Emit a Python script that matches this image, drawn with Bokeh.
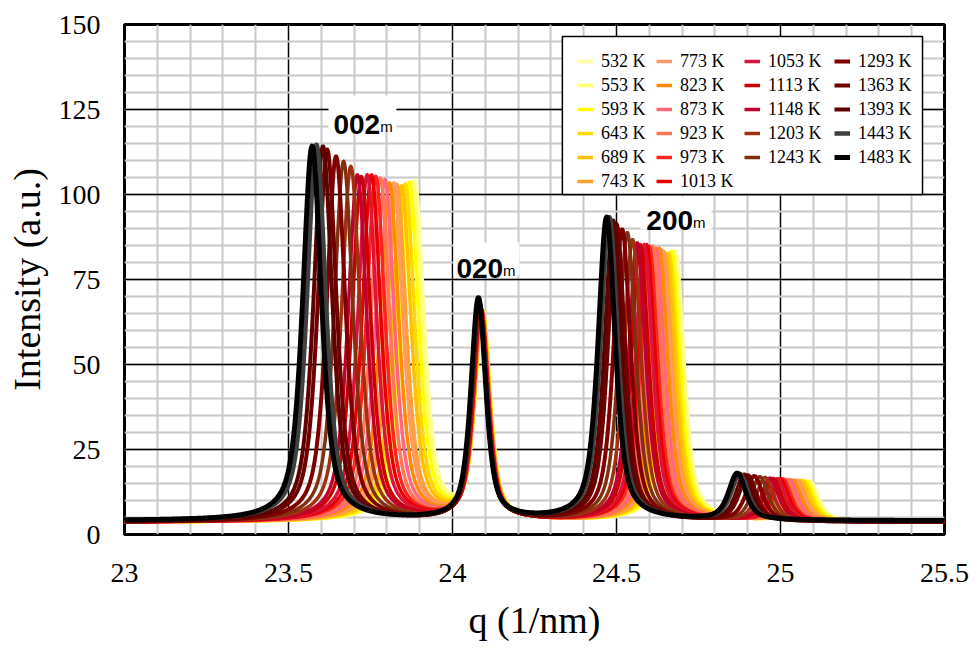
import numpy as np
from bokeh.plotting import figure
from bokeh.models import (Range1d, FixedTicker, NumeralTickFormatter, Legend,
                          LegendItem, BoxAnnotation, Label)
from bokeh.embed import file_html
from bokeh.resources import INLINE

# ---------------- data ----------------
temps = [532, 553, 593, 643, 689, 743, 773, 823, 873, 923, 973, 1013,
         1053, 1113, 1148, 1203, 1243, 1293, 1363, 1393, 1443, 1483]
colors = ["#FFFFA0", "#FFFF70", "#FFFF00", "#FFD800", "#FFC000", "#FFA030",
          "#FF9966", "#FF8C00", "#FF6680", "#FF7755", "#FF2222", "#E60000",
          "#DC143C", "#CC0000", "#C00030", "#A0300F", "#7F3010", "#800000",
          "#700000", "#600000", "#404040", "#000000"]

# 002m reflection: centre (1/nm) and peak intensity
q002 = [23.885, 23.878, 23.868, 23.856, 23.845, 23.830, 23.821, 23.808, 23.794,
        23.780, 23.766, 23.753, 23.740, 23.722, 23.710, 23.690, 23.668, 23.645,
        23.618, 23.605, 23.585, 23.572]
h002 = [103.5, 103.0, 103.0, 102.5, 102.0, 102.5, 103.0, 103.0, 104.0, 104.5,
        105.0, 105.5, 105.5, 105.0, 105.5, 108.0, 109.5, 111.0, 113.0, 114.0,
        114.5, 114.0]
# 020m reflection
q020 = [24.093, 24.092, 24.092, 24.091, 24.090, 24.090, 24.089, 24.089, 24.088,
        24.088, 24.087, 24.087, 24.086, 24.085, 24.085, 24.084, 24.083, 24.082,
        24.081, 24.080, 24.080, 24.079]
h020 = [64.0, 64.2, 64.4, 64.5, 64.6, 64.8, 65.0, 65.0, 65.2, 65.3, 65.5, 65.6,
        65.8, 66.0, 66.2, 66.5, 66.8, 67.2, 67.6, 68.0, 68.5, 69.0]
# 200m reflection
q200 = [24.680, 24.676, 24.668, 24.660, 24.653, 24.644, 24.638, 24.630, 24.620,
        24.610, 24.600, 24.592, 24.584, 24.572, 24.563, 24.549, 24.533, 24.517,
        24.500, 24.490, 24.478, 24.470]
h200 = [83.0, 83.0, 83.0, 82.5, 82.5, 83.0, 83.5, 84.0, 84.0, 84.5, 84.5, 85.0,
        85.0, 85.0, 85.5, 86.5, 88.5, 89.5, 91.0, 92.0, 93.0, 93.0]
# weak reflection near 24.9-25.1
qw = [25.090, 25.085, 25.078, 25.070, 25.062, 25.052, 25.046, 25.037, 25.027,
      25.017, 25.007, 24.999, 24.990, 24.978, 24.968, 24.953, 24.937, 24.920,
      24.900, 24.890, 24.876, 24.868]
hw = [15.3, 15.3, 15.4, 15.4, 15.5, 15.5, 15.6, 15.6, 15.8, 15.8, 16.0, 16.0,
      16.0, 16.1, 16.2, 16.4, 16.6, 16.8, 17.0, 17.2, 17.4, 17.6]
base = [3.6] * 20 + [4.0, 4.0]
# half widths at half maximum of the four reflections
hwhm = [0.034, 0.027, 0.031, 0.031]

x_ticks = [23, 23.5, 24, 24.5, 25, 25.5]
y_ticks = [0, 25, 50, 75, 100, 125, 150]

# ---------------- figure ----------------
p = figure(width=971, height=647, output_backend="svg", toolbar_location=None,
           x_range=Range1d(23, 25.5), y_range=Range1d(0, 150),
           min_border_left=124, min_border_right=27, min_border_top=24,
           min_border_bottom=113)
p.background_fill_color = "white"
p.border_fill_color = "white"
p.outline_line_color = "black"
p.outline_line_width = 3

p.xaxis.ticker = FixedTicker(ticks=x_ticks,
                             minor_ticks=list(np.round(np.arange(23, 25.501, 0.1), 2)))
p.yaxis.ticker = FixedTicker(ticks=y_ticks, minor_ticks=list(range(0, 151, 5)))
p.xaxis.formatter = NumeralTickFormatter(format="0.[0]")

for ax in (p.xaxis[0], p.yaxis[0]):
    ax.axis_line_color = None
    ax.major_tick_line_color = None
    ax.minor_tick_line_color = None
    ax.major_tick_out = 0
    ax.major_tick_in = 0
    ax.minor_tick_out = 0
    ax.major_label_text_font = "Liberation Serif"
    ax.major_label_text_font_size = "28px"
    ax.major_label_text_color = "black"
    ax.axis_label_text_font = "Liberation Serif"
    ax.axis_label_text_font_style = "normal"
    ax.axis_label_text_color = "black"

p.xaxis.axis_label = "q (1/nm)"
p.xaxis.axis_label_text_font_size = "38px"
p.xaxis.major_label_standoff = 29
p.xaxis.axis_label_standoff = 14
p.yaxis.axis_label = "Intensity (a.u.)"
p.yaxis.axis_label_text_font_size = "38px"
p.yaxis.major_label_standoff = 24
p.yaxis.axis_label_standoff = 8

for g in (p.xgrid[0], p.ygrid[0]):
    g.grid_line_color = "black"
    g.grid_line_width = 1.3
    g.minor_grid_line_color = "#c8c8c8"
    g.minor_grid_line_width = 2

q = np.round(np.arange(23.0, 25.5001, 0.002), 4)


def pv(x, c, a, w, eta=0.65):
    d2 = ((x - c) / w) ** 2
    return a * (eta / (1.0 + d2) + (1 - eta) * np.exp(-np.log(2) * d2))


renderers = []
for i, t in enumerate(temps):
    b = base[i]
    y = (b + pv(q, q002[i], h002[i] - b, hwhm[0]) + pv(q, q020[i], h020[i] - b, hwhm[1])
         + pv(q, q200[i], h200[i] - b, hwhm[2]) + pv(q, qw[i], hw[i] - b, hwhm[3]))
    if t >= 1483:
        lw = 5
    elif t >= 1443:
        lw = 4.5
    elif t >= 1293:
        lw = 4
    else:
        lw = 3.5
    r = p.line(q, y, line_color=colors[i], line_width=lw, line_join="round")
    renderers.append(r)

# ---------------- peak labels ----------------
def peak_label(txt, x0, y0, xm, ym, box):
    p.add_layout(BoxAnnotation(left=box[0], right=box[1], bottom=box[2], top=box[3],
                               fill_color="white", fill_alpha=1.0, line_alpha=0))
    p.add_layout(Label(x=x0, y=y0, text=txt, text_font="Liberation Sans",
                       text_font_style="bold", text_font_size="28px",
                       text_baseline="alphabetic", text_align="left", text_color="black"))
    p.add_layout(Label(x=xm, y=ym, text="m", text_font="Liberation Sans",
                       text_font_size="15px", text_baseline="alphabetic",
                       text_align="left", text_color="black"))


peak_label("002", 23.637, 120.6, 23.780, 120.0, (23.622, 23.829, 119.1, 129.1))
peak_label("020", 24.012, 78.2, 24.154, 77.6, (24.003, 24.204, 76.2, 85.9))
peak_label("200", 24.591, 92.35, 24.733, 91.8, (24.573, 24.790, 89.7, 99.4))

# ---------------- legend ----------------
p.add_layout(BoxAnnotation(left=24.335, right=25.433, bottom=100.0, top=146.5,
                           fill_color="white", fill_alpha=1.0,
                           line_color="black", line_width=1.5, line_alpha=1.0))

cols = [range(0, 6), range(6, 12), range(12, 17), range(17, 22)]
xoff = [453, 532, 620, 710]
for ci, idx in enumerate(cols):
    items = [LegendItem(label=f"{temps[k]} K", renderers=[renderers[k]]) for k in idx]
    n = len(items)
    h = n * 22 + (n - 1) * 2
    leg = Legend(items=items, location=(xoff[ci], 510 - 26 - h), orientation="vertical",
                 glyph_width=16, glyph_height=22, label_height=22, spacing=2,
                 label_standoff=8, padding=0, margin=0,
                 border_line_alpha=0, background_fill_alpha=0,
                 label_text_font="Liberation Serif", label_text_font_size="18px",
                 label_text_color="black")
    p.add_layout(leg)

open("out.html", "w").write(file_html(p, INLINE))
